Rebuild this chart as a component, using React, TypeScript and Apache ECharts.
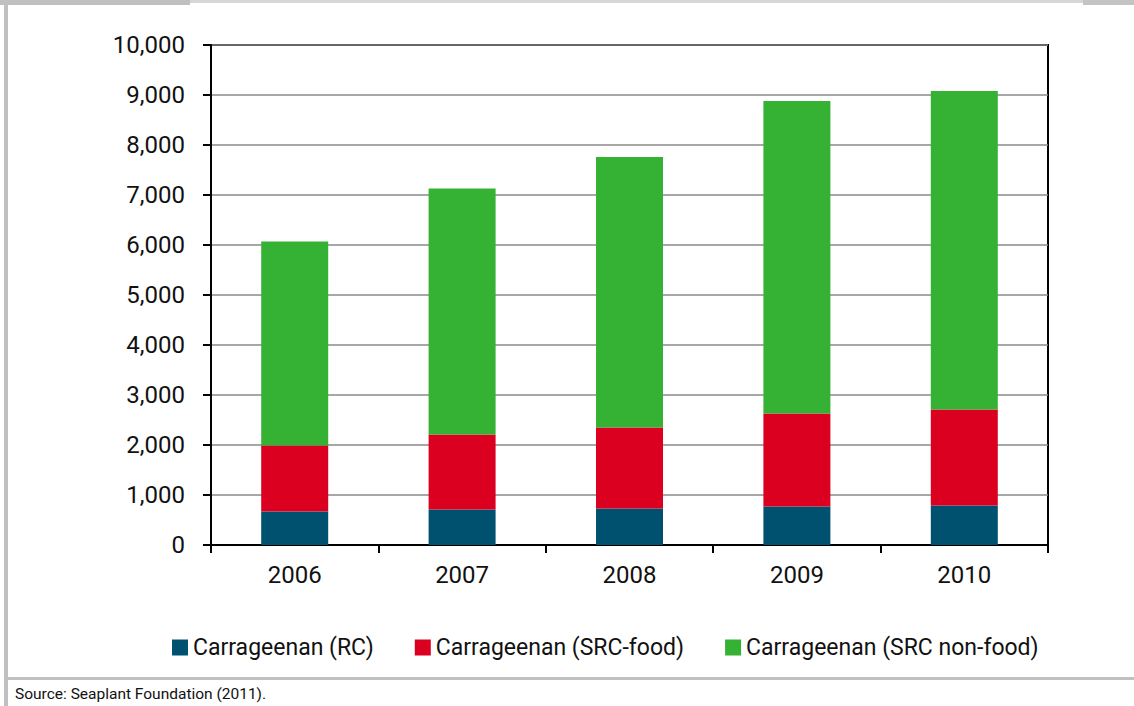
import React, { useEffect, useRef } from "react";
import * as echarts from "echarts";

const years = ["2006", "2007", "2008", "2009", "2010"];
const rc = [670, 710, 730, 770, 790];
const srcFood = [1320, 1500, 1620, 1860, 1920];
const srcNonFood = [4080, 4920, 5410, 6250, 6370];
const seriesNames = ["Carrageenan (RC)", "Carrageenan (SRC-food)", "Carrageenan (SRC non-food)"];
const colors = ["#00516F", "#DB0020", "#35B234"];
const sourceText = "Source: Seaplant Foundation (2011).";

const FONT = "Roboto, 'Liberation Sans', sans-serif";

export default function App() {
  const ref = useRef<HTMLDivElement>(null);
  useEffect(() => {
    document.body.style.margin = "0";
    const chart = echarts.init(ref.current!, null, { renderer: "svg" });
    const data = [rc, srcFood, srcNonFood];
    chart.setOption({
      animation: false,
      backgroundColor: "#ffffff",
      textStyle: { fontFamily: FONT },
      grid: {
        left: 211,
        top: 45,
        width: 837,
        height: 500,
        show: true,
        borderColor: "#000",
        borderWidth: 2,
        containLabel: false,
      },
      legend: {
        left: 167,
        top: 631,
        itemWidth: 16,
        itemHeight: 16,
        itemGap: 41,
        icon: "rect",
        textStyle: { fontSize: 23, color: "#111", fontFamily: FONT },
        data: seriesNames,
      },
      xAxis: {
        type: "category",
        data: years,
        axisLine: { lineStyle: { color: "#000", width: 2 } },
        axisTick: { show: true, length: 8, lineStyle: { color: "#000", width: 2 } },
        axisLabel: { fontSize: 24, color: "#111", margin: 18, fontFamily: FONT },
      },
      yAxis: {
        type: "value",
        min: 0,
        max: 10000,
        interval: 1000,
        axisLine: { show: true, lineStyle: { color: "#000", width: 2 } },
        axisTick: { show: true, length: 8, lineStyle: { color: "#000", width: 2 } },
        axisLabel: {
          fontSize: 24,
          color: "#111",
          margin: 26,
          fontFamily: FONT,
          formatter: (v: number) => v.toLocaleString("en-US"),
        },
        splitLine: { show: true, lineStyle: { color: "#8a8a8a", width: 1.5 } },
      },
      series: seriesNames.map((name, i) => ({
        name,
        type: "bar",
        stack: "total",
        data: data[i],
        barWidth: 67,
        itemStyle: { color: colors[i] },
      })),
      graphic: [
        { type: "rect", shape: { x: 0, y: 0, width: 190, height: 5 }, style: { fill: "#c0c0c0" } },
        { type: "rect", shape: { x: 190, y: 0, width: 893, height: 3 }, style: { fill: "#d6d6d6" } },
        { type: "rect", shape: { x: 1083, y: 0, width: 51, height: 5 }, style: { fill: "#c4c4c4" } },
        { type: "rect", shape: { x: 4, y: 0, width: 4, height: 706 }, style: { fill: "#c0c0c0" } },
        { type: "rect", shape: { x: 4, y: 677, width: 1130, height: 3 }, style: { fill: "#c0c0c0" } },
        {
          type: "text",
          left: 15,
          top: 686,
          style: { text: sourceText, fontSize: 15.5, fill: "#111", fontFamily: FONT },
        },
      ],
    });
    return () => chart.dispose();
  }, []);
  return <div ref={ref} style={{ width: 1134, height: 706 }} />;
}
